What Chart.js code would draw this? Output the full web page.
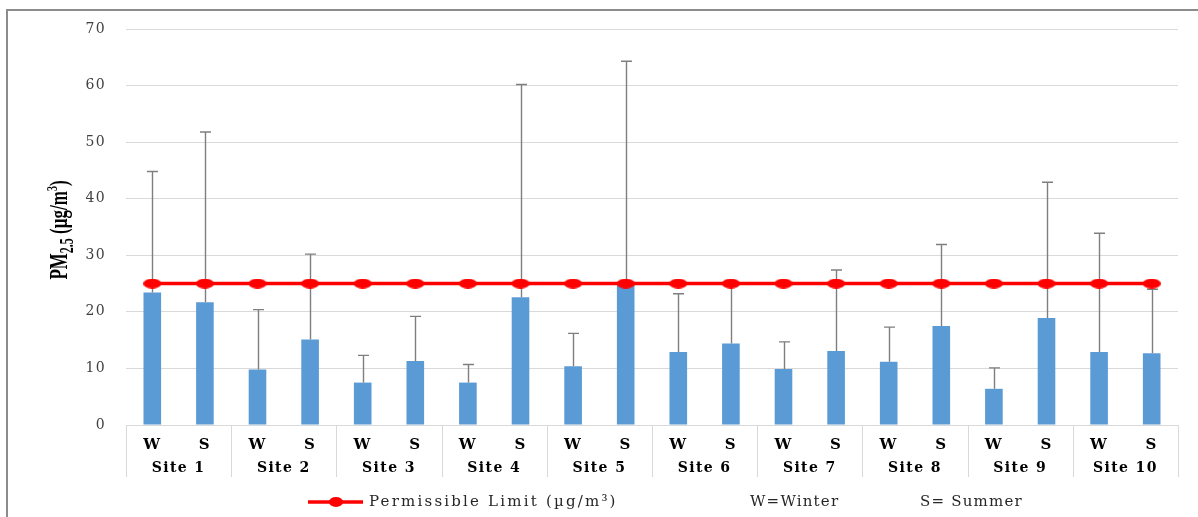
<!DOCTYPE html>
<html>
<head>
<meta charset="utf-8">
<script src="https://cdn.jsdelivr.net/npm/chart.js@4.4.1/dist/chart.umd.min.js"></script>
<style>
  html, body { margin: 0; padding: 0; background: #ffffff; }
  #wrap { width: 1198px; height: 517px; position: relative; }
</style>
</head>
<body>
<div id="wrap"><canvas id="pmChart" width="1198" height="517"></canvas></div>
<script>
// Monitoring sites and seasons (W = winter, S = summer)
const siteLabels = ['Site 1', 'Site 2', 'Site 3', 'Site 4', 'Site 5', 'Site 6', 'Site 7', 'Site 8', 'Site 9', 'Site 10'];
const seasonLabels = ['W', 'S'];

// Mean PM2.5 concentration (µg/m³) per site
const winterMean = [23.4, 9.8, 7.5, 7.5, 10.4, 12.9, 9.9, 11.2, 6.4, 12.9];
const summerMean = [21.7, 15.1, 11.3, 22.6, 25.3, 14.4, 13.1, 17.5, 18.9, 12.7];

// Standard deviation (upper error bar) per site
const winterSD = [21.4, 10.6, 4.8, 3.2, 5.8, 10.3, 4.8, 6.1, 3.7, 21.0];
const summerSD = [30.1, 15.1, 7.9, 37.6, 39.0, 10.4, 14.3, 14.4, 24.0, 11.3];

// Permissible limit (µg/m³), one point per bar
const limitValues = [25, 25, 25, 25, 25, 25, 25, 25, 25, 25, 25, 25, 25, 25, 25, 25, 25, 25, 25, 25];

// Value axis ticks
const yTickMin = 0;
const yTickMax = 70;
const yTickStep = 10;

// Interleave seasons: W, S for every site
const categoryLabels = [];
const meanValues = [];
const sdValues = [];
siteLabels.forEach((s, i) => {
  categoryLabels.push(seasonLabels[0], seasonLabels[1]);
  meanValues.push(winterMean[i], summerMean[i]);
  sdValues.push(winterSD[i], summerSD[i]);
});

const SERIF = "'DejaVu Serif', 'Liberation Serif', serif";
const TIMES = "'Liberation Serif', 'DejaVu Serif', serif";

// Oval marker used on the permissible-limit line
function ovalMarker(w, h, color) {
  const c = document.createElement('canvas');
  c.width = w; c.height = h;
  const g = c.getContext('2d');
  g.fillStyle = color;
  g.beginPath();
  g.ellipse(w / 2, h / 2, w / 2, h / 2, 0, 0, Math.PI * 2);
  g.fill();
  return c;
}
const limitMarker = ovalMarker(18, 10, '#ff0000');

// Wider letter spacing for all chart text
const spacingPlugin = {
  id: 'spacing',
  beforeDraw(chart) { chart.ctx.letterSpacing = '1.4px'; }
};

// Outer frame (top and left rules)
const framePlugin = {
  id: 'frame',
  beforeDraw(chart) {
    const ctx = chart.ctx;
    ctx.save();
    ctx.strokeStyle = '#8c8c8c';
    ctx.lineWidth = 2;
    ctx.beginPath();
    ctx.moveTo(7, chart.height);
    ctx.lineTo(7, 10);
    ctx.lineTo(chart.width, 10);
    ctx.stroke();
    ctx.restore();
  }
};

// Upper error bars drawn on top of the columns
const errorBarPlugin = {
  id: 'errorBars',
  afterDatasetDraw(chart, args) {
    if (args.index !== 0) return;
    const ctx = chart.ctx;
    const y = chart.scales.y;
    const meta = chart.getDatasetMeta(0);
    ctx.save();
    ctx.strokeStyle = '#7f7f7f';
    ctx.lineWidth = 1.4;
    meta.data.forEach((bar, i) => {
      const top = y.getPixelForValue(meanValues[i] + sdValues[i]);
      const x = Math.round(bar.x) + 0.5;
      ctx.beginPath();
      ctx.moveTo(x, bar.y);
      ctx.lineTo(x, top);
      ctx.moveTo(x - 5.5, top);
      ctx.lineTo(x + 5.5, top);
      ctx.stroke();
    });
    ctx.restore();
  }
};

// Site group separators below the axis
const separatorPlugin = {
  id: 'separators',
  afterDraw(chart) {
    const ctx = chart.ctx;
    const x = chart.scales.x;
    const x2 = chart.scales.x2;
    const area = chart.chartArea;
    const bottom = x2.top + 22;
    const xs = [area.left];
    for (let i = 1; i < siteLabels.length; i++) {
      xs.push((x.getPixelForValue(2 * i - 1) + x.getPixelForValue(2 * i)) / 2);
    }
    xs.push(area.right);
    ctx.save();
    ctx.strokeStyle = '#d9d9d9';
    ctx.lineWidth = 1;
    ctx.beginPath();
    xs.forEach(px => {
      const p = Math.round(px) + 0.5;
      ctx.moveTo(p, area.bottom);
      ctx.lineTo(p, bottom);
    });
    ctx.stroke();
    ctx.restore();
  }
};

// Rotated value-axis title with subscript and superscript
const yTitlePlugin = {
  id: 'yTitle',
  afterDraw(chart) {
    const ctx = chart.ctx;
    const parts = [
      { t: 'PM', size: 17, dy: 0 },
      { t: '2.5', size: 12, dy: 3.5 },
      { t: ' (µg/m', size: 17, dy: 0 },
      { t: '3', size: 10, dy: -7 },
      { t: ')', size: 17, dy: 0 }
    ];
    ctx.save();
    ctx.letterSpacing = '0px';
    ctx.translate(59, 230);
    ctx.rotate(-Math.PI / 2);
    ctx.scale(1, 1.5);
    ctx.fillStyle = '#000000';
    ctx.textBaseline = 'alphabetic';
    let total = 0;
    parts.forEach(p => {
      ctx.font = 'bold ' + p.size + 'px ' + TIMES;
      p.w = ctx.measureText(p.t).width;
      total += p.w;
    });
    let cx = -total / 2;
    parts.forEach(p => {
      ctx.font = 'bold ' + p.size + 'px ' + TIMES;
      ctx.fillText(p.t, cx, 5.5 + p.dy);
      cx += p.w;
    });
    ctx.restore();
  }
};

// Legend row: limit line key and season abbreviations
const legendPlugin = {
  id: 'legendRow',
  afterDraw(chart) {
    const ctx = chart.ctx;
    const ly = 502;
    ctx.save();
    ctx.strokeStyle = '#ff0000';
    ctx.lineWidth = 3.5;
    ctx.beginPath();
    ctx.moveTo(308, ly);
    ctx.lineTo(363, ly);
    ctx.stroke();
    ctx.fillStyle = '#ff0000';
    ctx.beginPath();
    ctx.ellipse(336, ly, 7, 5, 0, 0, Math.PI * 2);
    ctx.fill();
    ctx.fillStyle = '#262626';
    ctx.font = '15px ' + SERIF;
    ctx.textBaseline = 'middle';
    ctx.textAlign = 'left';
    ctx.letterSpacing = '2.2px';
    ctx.fillText('Permissible Limit (µg/m³)', 369, ly);
    ctx.letterSpacing = '1.2px';
    ctx.fillText('W=Winter', 750, ly);
    ctx.fillText('S= Summer', 920, ly);
    ctx.restore();
  }
};

new Chart(document.getElementById('pmChart'), {
  data: {
    labels: categoryLabels,
    datasets: [
      {
        type: 'bar',
        label: 'PM2.5',
        data: meanValues,
        backgroundColor: '#5b9bd5',
        borderWidth: 0,
        categoryPercentage: 0.335,
        barPercentage: 1,
        order: 2
      },
      {
        type: 'line',
        label: 'Permissible Limit (µg/m³)',
        data: limitValues,
        borderColor: '#ff0000',
        borderWidth: 3.5,
        pointStyle: limitMarker,
        pointRadius: 6,
        pointHoverRadius: 6,
        fill: false,
        tension: 0,
        order: 1
      }
    ]
  },
  options: {
    responsive: false,
    animation: false,
    devicePixelRatio: 1,
    layout: { padding: { top: 29, right: 20, bottom: 35, left: 0 } },
    plugins: {
      legend: { display: false },
      tooltip: { enabled: false }
    },
    scales: {
      x: {
        type: 'category',
        offset: true,
        grid: { display: false, drawTicks: false },
        border: { display: false },
        ticks: {
          color: '#000000',
          padding: 11,
          font: { family: SERIF, size: 15, weight: 'bold' },
          maxRotation: 0,
          autoSkip: false
        },
        afterFit(s) { s.height = 30; }
      },
      x2: {
        type: 'category',
        axis: 'x',
        position: 'bottom',
        labels: siteLabels,
        offset: true,
        grid: { display: false, drawTicks: false },
        border: { display: false },
        ticks: {
          color: '#000000',
          padding: 5,
          font: { family: SERIF, size: 14, weight: 'bold' },
          maxRotation: 0,
          autoSkip: false
        },
        afterFit(s) { s.height = 27; }
      },
      y: {
        min: yTickMin,
        max: yTickMax,
        grid: { color: '#d9d9d9', lineWidth: 1, drawTicks: false },
        border: { display: false },
        ticks: {
          stepSize: yTickStep,
          color: '#404040',
          padding: 20,
          font: { family: SERIF, size: 14 }
        },
        afterFit(s) { s.width = 126; }
      }
    }
  },
  plugins: [spacingPlugin, framePlugin, errorBarPlugin, separatorPlugin, yTitlePlugin, legendPlugin]
});
</script>
</body>
</html>
